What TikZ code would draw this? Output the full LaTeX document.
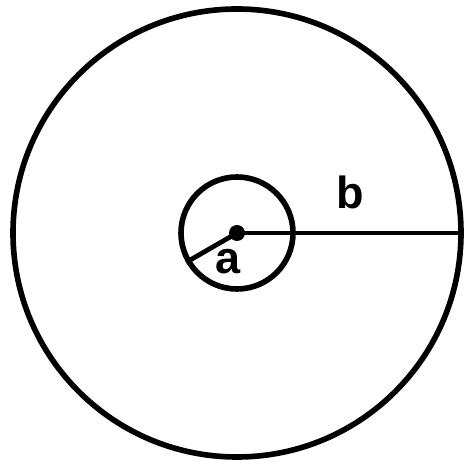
\documentclass[tikz,border=0pt]{standalone}
\usepackage{fontspec}
\setmainfont{Liberation Sans}
\usetikzlibrary{positioning}

\begin{document}
\begin{tikzpicture}[
    ring/.style={circle, draw, line width=4pt, inner sep=0pt},
    radius/.style={line width=3.4pt},
    lbl/.style={font=\fontsize{32}{32}\selectfont\bfseries, inner sep=0pt}
]
    \useasboundingbox (0,0) rectangle (11.6,11.55);
    \coordinate (c) at (5.925,5.725);
    \node[ring, minimum size=11.2cm] (outer) at (c) {};
    \node[ring, minimum size=2.8cm] (inner) at (c) {};
    \fill (c) circle (0.2);
    \draw[radius] (c) -- (outer.east);
    \draw[radius] (c) -- (inner.210);
    \node[lbl] (b) at (8.75,6.75) {b};
    \node[lbl] (a) at (5.7,5.0) {a};
\end{tikzpicture}
\end{document}
